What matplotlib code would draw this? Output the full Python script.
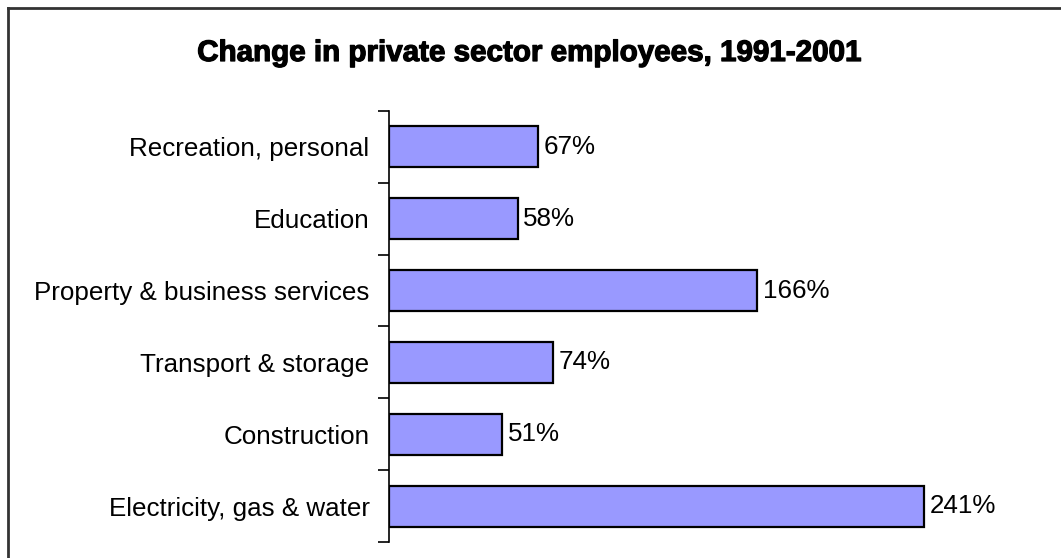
import matplotlib.pyplot as plt
import matplotlib.patheffects as pe
from matplotlib.lines import Line2D

# Sectors listed top to bottom as drawn
sectors = ['Recreation, personal', 'Education', 'Property & business services',
           'Transport & storage', 'Construction', 'Electricity, gas & water']
change_pct = [67, 58, 166, 74, 51, 241]

plt.rcParams['font.family'] = ['Liberation Sans', 'DejaVu Sans']

fig = plt.figure(figsize=(10.61, 5.58), dpi=100)
ax = fig.add_axes([389 / 1061, 16 / 558, 0.6, 431 / 558])

pos = list(range(len(sectors)))[::-1]
ax.barh(pos, change_pct, height=0.57, color='#9999FF', edgecolor='black', linewidth=1.6)

for y, v in zip(pos, change_pct):
    ax.text(v + 2.6, y, f'{v}%', va='center', ha='left', fontsize=18.7)

ax.set_xlim(0, 287)
ax.set_ylim(-0.5, len(sectors) - 0.5)
ax.set_yticks(pos)
ax.set_yticklabels(sectors, fontsize=18.7)
ax.tick_params(axis='y', which='major', length=0, pad=14)
# boundary ticks between categories
ax.set_yticks([p - 0.5 for p in range(len(sectors) + 1)], minor=True)
ax.tick_params(axis='y', which='minor', length=8, width=1.2, direction='out')
ax.set_xticks([])
for side in ['top', 'right', 'bottom']:
    ax.spines[side].set_visible(False)
ax.spines['left'].set_linewidth(1.2)

fig.text(530 / 1061, 1 - 53 / 558, 'Change in private sector employees, 1991-2001',
         ha='center', va='center', fontsize=21.3, fontweight='heavy',
         path_effects=[pe.withStroke(linewidth=0.9, foreground='black')])

# outer frame around the chart
fig.add_artist(Line2D([8 / 1061, 8 / 1061], [0, 1 - 8 / 558], color='#333333', linewidth=2))
fig.add_artist(Line2D([8 / 1061, 1], [1 - 8 / 558, 1 - 8 / 558], color='#333333', linewidth=2))

fig.savefig('out.png', dpi=100)
